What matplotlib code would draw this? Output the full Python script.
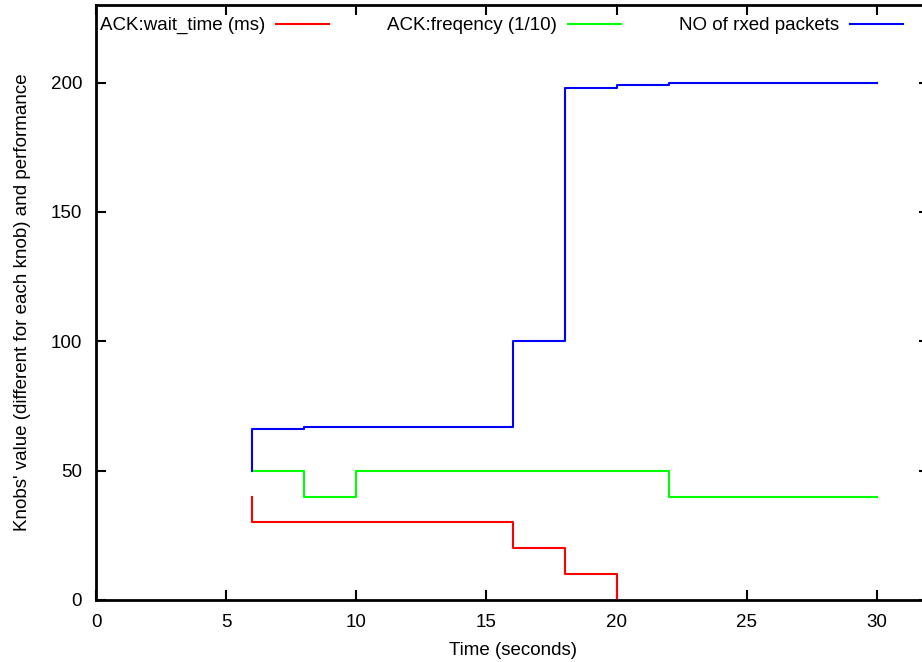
import matplotlib
matplotlib.use("Agg")
import matplotlib.pyplot as plt

plt.rcParams['font.family'] = ['Liberation Sans', 'DejaVu Sans']

# step data (gnuplot "steps" == steps-post)
wait_x = [6, 6, 16, 18, 20]
wait_y = [40, 30, 20, 10, 0]

freq_x = [6, 8, 10, 22, 30]
freq_y = [50, 40, 50, 40, 40]

rx_x = [6, 6, 8, 16, 18, 20, 22, 30]
rx_y = [50, 66, 67, 100, 198, 199, 200, 200]

xticks = [0, 5, 10, 15, 20, 25, 30]
yticks = [0, 50, 100, 150, 200]

fig = plt.figure(figsize=(9.22, 6.62), dpi=100)
W, H = 922, 662
# right border of the original sits just outside the picture
ax = fig.add_axes([96 / W, 62 / H, (929 - 96) / W, (600 - 5) / H])

ax.plot(wait_x, wait_y, drawstyle='steps-post', color='#ff0000', lw=1.5,
        label='ACK:wait_time (ms)')
ax.plot(freq_x, freq_y, drawstyle='steps-post', color='#00ff00', lw=1.5,
        label='ACK:freqency (1/10)')
ax.plot(rx_x, rx_y, drawstyle='steps-post', color='#0000ff', lw=1.5,
        label='NO of rxed packets')

ax.set_xlim(0, 32)
ax.set_ylim(0, 230)
ax.set_xticks(xticks)
ax.set_yticks(yticks)
ax.tick_params(direction='in', length=7, width=1.5, top=True, right=True,
               labelsize=13.5, pad=10)
for s in ax.spines.values():
    s.set_linewidth(2)
ax.spines['right'].set_visible(False)

ax.set_xlabel('Time (seconds)', fontsize=13.5, labelpad=8)
ax.set_ylabel("Knobs' value (different for each knob) and performance",
              fontsize=13.5, labelpad=14)

ax.legend(loc='upper left', bbox_to_anchor=(-0.01, 1.0), ncol=3, markerfirst=False,
          frameon=False, fontsize=13.5, handlelength=2.8, handletextpad=0.6,
          columnspacing=3.1, borderaxespad=0.35, borderpad=0.3)

fig.savefig('out.png', dpi=100)
